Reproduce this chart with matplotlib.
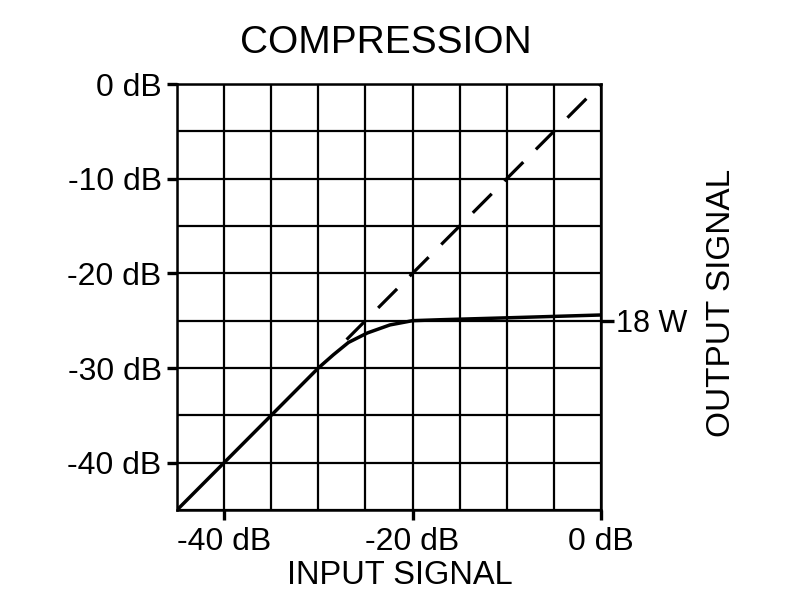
import matplotlib
matplotlib.use("Agg")
import matplotlib.pyplot as plt
import numpy as np

plt.rcParams['font.family'] = ['Liberation Sans', 'DejaVu Sans']

# Data (dB)
curve_x = [-45, -30, -28.4, -26.8, -24.8, -22.4, -20, -17, -10, 0]
curve_y = [-45, -30, -28.6, -27.3, -26.3, -25.45, -25.0, -24.9, -24.7, -24.4]
ref_x = [-27, 0]
ref_y = [-27, 0]
x_ticks = [-40, -20, 0]
x_labels = ['-40 dB', '-20 dB', '0 dB']
y_ticks = [0, -10, -20, -30, -40]
y_labels = ['0 dB', '-10 dB', '-20 dB', '-30 dB', '-40 dB']
grid_vals = list(range(-45, 1, 5))
right_tick = [-25]
right_label = ['18 W']

fig = plt.figure(figsize=(8, 6), dpi=100)
ax = fig.add_axes([177/800, 1 - 510/600, 424/800, 426/600])
ax.set_xlim(-45, 0)
ax.set_ylim(-45, 0)

ax.set_xticks(x_ticks)
ax.set_xticklabels(x_labels)
ax.set_yticks(y_ticks)
ax.set_yticklabels(y_labels)
ax.set_xticks(grid_vals, minor=True)
ax.set_yticks(grid_vals, minor=True)
ax.grid(which='both', color='black', linewidth=1.6)
ax.set_axisbelow(True)
ax.tick_params(which='minor', length=0)
ax.tick_params(which='major', direction='out', length=7, width=2.4,
               labelsize=23, pad=4, color='black')
ax.tick_params(axis='x', which='major', length=7, pad=5)
for s in ax.spines.values():
    s.set_linewidth(1.8)

ax.plot(curve_x, curve_y, color='black', linewidth=2.5, solid_capstyle='butt', zorder=3)
ax.plot(ref_x, ref_y, color='black', linewidth=2.3, dashes=(8.4, 5.6), zorder=3)

ax2 = ax.twinx()
ax2.set_ylim(-45, 0)
ax2.set_yticks(right_tick)
ax2.set_yticklabels(right_label)
ax2.tick_params(direction='out', length=9, width=2.4, labelsize=22, pad=2)
for s in ax2.spines.values():
    s.set_visible(False)

ax.set_xlabel('INPUT SIGNAL', fontsize=23.5)
ax.xaxis.set_label_coords((400 - 177) / 424, -0.118)
ax2.set_ylabel('OUTPUT SIGNAL', fontsize=24)
ax2.yaxis.set_label_coords((706 - 177) / 424, (510 - 303) / 426)

fig.text(386 / 800, 1 - 52.7 / 600, 'COMPRESSION', ha='center', va='baseline', fontsize=28)

fig.savefig('out.png', dpi=100)
